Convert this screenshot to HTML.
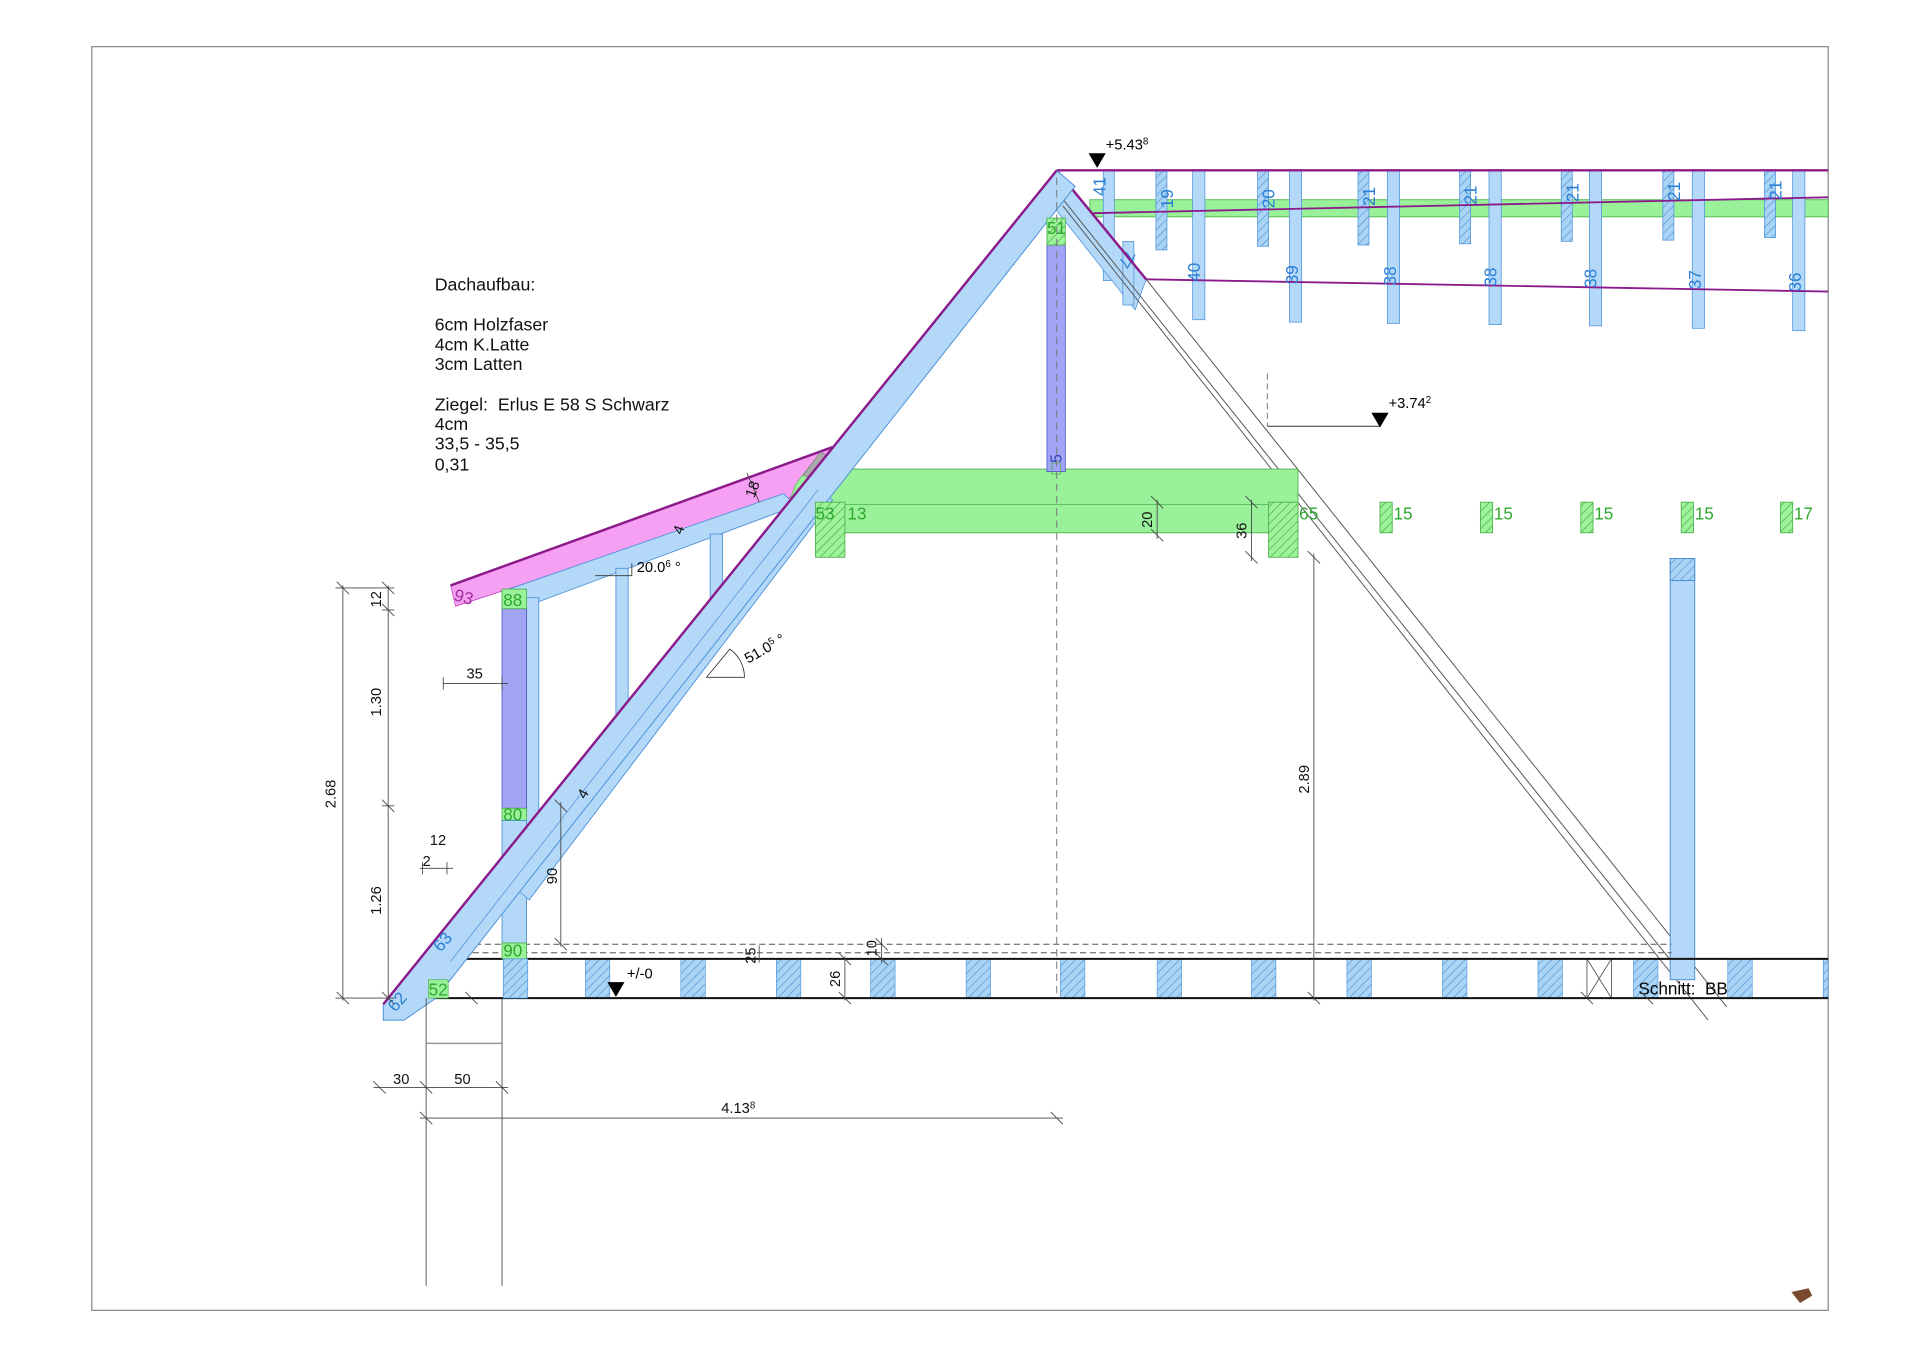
<!DOCTYPE html>
<html><head><meta charset="utf-8"><style>html,body{margin:0;padding:0;background:#fff}svg{display:block}text{font-family:"Liberation Sans",sans-serif}</style></head><body>
<svg width="1920" height="1357" viewBox="0 0 1568 1108" xmlns="http://www.w3.org/2000/svg">
<defs>
<pattern id="hb" width="5" height="5" patternUnits="userSpaceOnUse" patternTransform="rotate(45)"><rect width="5" height="5" fill="#a9d4f5"/><line x1="0" y1="0" x2="0" y2="5" stroke="#4a8fd0" stroke-width="1"/></pattern>
<pattern id="hg" width="5" height="5" patternUnits="userSpaceOnUse" patternTransform="rotate(45)"><rect width="5" height="5" fill="#9ef29a"/><line x1="0" y1="0" x2="0" y2="5" stroke="#3aa83a" stroke-width="1"/></pattern>
</defs>
<rect x="75" y="38" width="1418" height="1032" fill="none" stroke="#888" stroke-width="1"/>

<rect x="890" y="163" width="603" height="14" fill="#99f199" stroke="#4cb04c" stroke-width="0.7"/>
<g fill="#b4d9f8" stroke="#4a90d9" stroke-width="0.6">
<rect x="901" y="139" width="9" height="90"/>
<rect x="974" y="139" width="10" height="122"/>
<rect x="1053" y="139" width="10" height="124"/>
<rect x="1133" y="139" width="10" height="125"/>
<rect x="1216" y="139" width="10" height="126"/>
<rect x="1298" y="139" width="10" height="127"/>
<rect x="1382" y="139" width="10" height="129"/>
<rect x="1464" y="139" width="10" height="131"/>
</g>
<g fill="url(#hb)" stroke="#4a90d9" stroke-width="0.6">
<rect x="944" y="139" width="9" height="65"/>
<rect x="1027" y="139" width="9" height="62"/>
<rect x="1109" y="139" width="9" height="61"/>
<rect x="1192" y="139" width="9" height="60"/>
<rect x="1275" y="139" width="9" height="58"/>
<rect x="1358" y="139" width="9" height="57"/>
<rect x="1441" y="139" width="9" height="55"/>
</g>
<line x1="863" y1="139" x2="1493" y2="139" stroke="#8b1a8b" stroke-width="2"/>
<line x1="893" y1="174" x2="1493" y2="161" stroke="#8b1a8b" stroke-width="1.5"/>
<line x1="936" y1="228" x2="1493" y2="238" stroke="#8b1a8b" stroke-width="1.5"/>
<g fill="#2a7fd4" font-size="14">
<text transform="translate(903,160) rotate(-90)">41</text>
<text transform="translate(958,170) rotate(-90)">19</text>
<text transform="translate(980,230) rotate(-90)">40</text>
<text transform="translate(1041,170) rotate(-90)">20</text>
<text transform="translate(1060,232) rotate(-90)">39</text>
<text transform="translate(1123,168) rotate(-90)">21</text>
<text transform="translate(1140,233) rotate(-90)">38</text>
<text transform="translate(1206,167) rotate(-90)">21</text>
<text transform="translate(1222,234) rotate(-90)">38</text>
<text transform="translate(1289,165) rotate(-90)">21</text>
<text transform="translate(1304,235) rotate(-90)">38</text>
<text transform="translate(1372,164) rotate(-90)">21</text>
<text transform="translate(1389,236) rotate(-90)">37</text>
<text transform="translate(1455,163) rotate(-90)">21</text>
<text transform="translate(1471,238) rotate(-90)">36</text>
</g>

<polygon points="863,139 936,228 927,253 863,172" fill="#b4d9f8" stroke="#4a90d9" stroke-width="0.6"/>
<rect x="917" y="197" width="9" height="52" fill="#b4d9f8" stroke="#4a90d9" stroke-width="0.6"/>
<text transform="translate(920,203) rotate(120)" fill="#2a7fd4" font-size="13">77</text>
<line x1="863" y1="139" x2="936" y2="228" stroke="#8b1a8b" stroke-width="2"/>
<g stroke="#555" stroke-width="0.8">
<line x1="866" y1="160" x2="1365" y2="785"/>
<line x1="868" y1="168" x2="1395" y2="833"/>
<line x1="936" y1="228" x2="1410" y2="822"/>
</g>

<polygon points="684,383 1060,383 1060,435 666,435" fill="#99f199" stroke="#4cb04c" stroke-width="0.7"/>
<line x1="676" y1="412" x2="1060" y2="412" stroke="#4cb04c" stroke-width="0.7"/>
<rect x="1036" y="410" width="24" height="45" fill="url(#hg)" stroke="#4cb04c" stroke-width="0.7"/>
<g fill="url(#hg)" stroke="#4cb04c" stroke-width="0.7">
<rect x="1127" y="410" width="10" height="25"/><rect x="1209" y="410" width="10" height="25"/>
<rect x="1291" y="410" width="10" height="25"/><rect x="1373" y="410" width="10" height="25"/>
<rect x="1454" y="410" width="10" height="25"/>
</g>

<rect x="855" y="200" width="15" height="185" fill="#a2a4f6" stroke="#5058c8" stroke-width="0.7"/>
<text transform="translate(867,378) rotate(-90)" fill="#3040b0" font-size="13">5</text>
<rect x="859" y="378" width="7" height="9" fill="none" stroke="#4cb04c" stroke-width="0.6"/>

<rect x="1364" y="456" width="20" height="344" fill="#b4d9f8" stroke="#4a90d9" stroke-width="0.8"/>
<rect x="1364" y="456" width="20" height="18" fill="url(#hb)" stroke="#4a90d9" stroke-width="0.8"/>

<line x1="380" y1="771" x2="1365" y2="771" stroke="#555" stroke-width="0.8" stroke-dasharray="5,3"/>
<line x1="370" y1="778" x2="1365" y2="778" stroke="#555" stroke-width="0.8" stroke-dasharray="5,3"/>
<g fill="url(#hb)" stroke="#4a90d9" stroke-width="0.5">
<rect x="478" y="783" width="20" height="32"/><rect x="556" y="783" width="20" height="32"/>
<rect x="634" y="783" width="20" height="32"/><rect x="711" y="783" width="20" height="32"/><rect x="789" y="783" width="20" height="32"/>
<rect x="866" y="783" width="20" height="32"/><rect x="945" y="783" width="20" height="32"/><rect x="1022" y="783" width="20" height="32"/>
<rect x="1100" y="783" width="20" height="32"/><rect x="1178" y="783" width="20" height="32"/><rect x="1256" y="783" width="20" height="32"/>
<rect x="1334" y="783" width="20" height="32"/><rect x="1411" y="783" width="20" height="32"/><rect x="1489" y="783" width="4" height="32"/>
</g>
<rect x="1296" y="783" width="20" height="32" fill="none" stroke="#555" stroke-width="0.7"/>
<line x1="1296" y1="783" x2="1316" y2="815" stroke="#555" stroke-width="0.7"/><line x1="1316" y1="783" x2="1296" y2="815" stroke="#555" stroke-width="0.7"/>
<line x1="368" y1="783" x2="1493" y2="783" stroke="#111" stroke-width="1.6"/>
<line x1="345" y1="815" x2="1493" y2="815" stroke="#111" stroke-width="1.6"/>

<polygon points="368,478 680,365 648,405 372,495" fill="#f6a0f4" stroke="#c040c0" stroke-width="0.6"/>
<line x1="368" y1="478" x2="680" y2="365" stroke="#8b1a8b" stroke-width="2"/>
<polygon points="410,483 640,403 650,413 430,495 410,497" fill="#b4d9f8" stroke="#4a90d9" stroke-width="0.7"/>
<polygon points="650,395 668,372 660,392 645,408" fill="#99f199" stroke="#4cb04c" stroke-width="0.5"/>
<polygon points="656,388 670,369 676,372 664,392" fill="#aaa" stroke="#777" stroke-width="0.5"/>
<rect x="430" y="488" width="10" height="205" fill="#b4d9f8" stroke="#4a90d9" stroke-width="0.7"/>
<rect x="503" y="464" width="10" height="140" fill="#b4d9f8" stroke="#4a90d9" stroke-width="0.7"/>
<rect x="580" y="436" width="10" height="64" fill="#b4d9f8" stroke="#4a90d9" stroke-width="0.7"/>
<rect x="410" y="497" width="20" height="163" fill="#a2a4f6" stroke="#5058c8" stroke-width="0.7"/>
<rect x="410" y="481" width="20" height="16" fill="#99f199" stroke="#4cb04c" stroke-width="0.7"/>
<rect x="410" y="660" width="20" height="10" fill="#99f199" stroke="#4cb04c" stroke-width="0.7"/>
<rect x="410" y="670" width="20" height="100" fill="#b4d9f8" stroke="#4a90d9" stroke-width="0.7"/>
<line x1="410" y1="722" x2="430" y2="722" stroke="#4a90d9" stroke-width="0.7"/>
<rect x="410" y="770" width="20" height="13" fill="#99f199" stroke="#4cb04c" stroke-width="0.7"/>
<rect x="411" y="783" width="20" height="32" fill="url(#hb)" stroke="#4a90d9" stroke-width="0.5"/>

<!-- main left rafter (wider, with secondary strip) -->
<polygon points="663,398 680,408 432,735 418,722" fill="#b4d9f8" stroke="#4a90d9" stroke-width="0.6"/>
<polygon points="863,139 878,152 356,815 330,833 313,833 313,820" fill="#b4d9f8" stroke="#4a90d9" stroke-width="0.8"/>
<line x1="668" y1="400" x2="368" y2="785" stroke="#4a90d9" stroke-width="0.6"/>
<line x1="680" y1="408" x2="432" y2="735" stroke="#4a90d9" stroke-width="0.6"/>
<line x1="863" y1="139" x2="313" y2="820" stroke="#8b1a8b" stroke-width="2"/>
<rect x="666" y="410" width="24" height="45" fill="url(#hg)" stroke="#4cb04c" stroke-width="0.7"/>
<rect x="855" y="178" width="15" height="22" fill="url(#hg)" stroke="#4cb04c" stroke-width="0.7"/>
<rect x="350" y="800" width="16" height="15" fill="#99f199" stroke="#4cb04c" stroke-width="0.6"/>
<g fill="#2ea82e" font-size="14">
<text x="666" y="424">53</text><text x="692" y="424">13</text><text x="1061" y="424">65</text>
<text x="1138" y="424">15</text><text x="1220" y="424">15</text><text x="1302" y="424">15</text><text x="1384" y="424">15</text><text x="1465" y="424">17</text>
<text x="855" y="191">51</text>
<text x="350" y="813">52</text>
<text x="411" y="495">88</text><text x="411" y="670">80</text><text x="411" y="781">90</text>
</g>
<text transform="translate(323,827) rotate(-50)" fill="#2a7fd4" font-size="14">62</text>
<text transform="translate(360,778) rotate(-50)" fill="#2a7fd4" font-size="14">63</text>
<text transform="translate(370,490) rotate(15)" fill="#a030a0" font-size="14">93</text>

<line x1="863" y1="145" x2="863" y2="815" stroke="#777" stroke-width="0.8" stroke-dasharray="6,4"/>
<line x1="1035" y1="305" x2="1035" y2="348" stroke="#777" stroke-width="0.8" stroke-dasharray="5,3"/>
<line x1="1035" y1="348" x2="1127" y2="348" stroke="#333" stroke-width="0.8"/>

<polygon points="889,125 903,125 896,137" fill="#000"/>
<text x="903" y="122" font-size="12">+5.43<tspan font-size="8" dy="-4">8</tspan></text>
<polygon points="1120,337 1134,337 1127,349" fill="#000"/>
<text x="1134" y="333" font-size="12">+3.74<tspan font-size="8" dy="-4">2</tspan></text>
<polygon points="496,802 510,802 503,814" fill="#000"/>
<text x="512" y="799" font-size="12">+/-0</text>
<text x="1338" y="812" font-size="14">Schnitt:&#160;&#160;BB</text>

<g font-size="14.5" fill="#111">
<text x="355" y="237">Dachaufbau:</text>
<text x="355" y="270">6cm Holzfaser</text>
<text x="355" y="286">4cm K.Latte</text>
<text x="355" y="302">3cm Latten</text>
<text x="355" y="335">Ziegel:&#160;&#160;Erlus E 58 S Schwarz</text>
<text x="355" y="351">4cm</text>
<text x="355" y="367">33,5 - 35,5</text>
<text x="355" y="384">0,31</text>
</g>

<polyline points="486,470 516,470 516,460" fill="none" stroke="#333" stroke-width="0.7"/>
<text x="520" y="467" font-size="12">20.0<tspan font-size="8" dy="-4">6</tspan><tspan dy="4"> °</tspan></text>
<path d="M577,553 L608,553 A28,28 0 0 0 596,530 Z" fill="none" stroke="#333" stroke-width="0.7"/>
<text transform="translate(611,542) rotate(-30)" font-size="12">51.0<tspan font-size="8" dy="-4">5</tspan><tspan dy="4"> °</tspan></text>

<g stroke="#444" stroke-width="0.7" fill="none">
<line x1="280" y1="478" x2="280" y2="817"/>
<line x1="317" y1="478" x2="317" y2="817"/>
<line x1="274" y1="815" x2="322" y2="815"/>
<line x1="274" y1="480" x2="322" y2="480"/>
<line x1="312" y1="498" x2="322" y2="498"/><line x1="312" y1="658" x2="322" y2="658"/>
<line x1="305" y1="888" x2="415" y2="888"/>
<line x1="343" y1="913" x2="868" y2="913"/>
<line x1="348" y1="815" x2="348" y2="1050"/><line x1="410" y1="815" x2="410" y2="1050"/>
<line x1="348" y1="852" x2="410" y2="852" stroke="#999" stroke-width="1.2"/>
<line x1="362" y1="558" x2="415" y2="558"/>
<line x1="458" y1="655" x2="458" y2="773"/>
<line x1="1073" y1="452" x2="1073" y2="817"/>
<line x1="1022" y1="408" x2="1022" y2="458"/>
<line x1="945" y1="408" x2="945" y2="440"/>
<line x1="690" y1="781" x2="690" y2="817"/>
<line x1="720" y1="766" x2="720" y2="786"/>
<line x1="620" y1="772" x2="620" y2="786"/>
<line x1="343" y1="709" x2="370" y2="709"/>
<line x1="610" y1="386" x2="620" y2="410"/>
</g>
<g stroke="#444" stroke-width="0.7">
<path d="M275,475l10,10M275,810l10,10M312,475l10,10M312,493l10,10M312,653l10,10M312,810l10,10M305,883l10,10M343,883l10,10M405,883l10,10M343,908l10,10M858,908l10,10M362,553l0,10M410,553l0,10M453,653l10,10M453,766l10,10M1068,450l10,10M1068,810l10,10M1017,405l10,10M1017,450l10,10M940,405l10,10M940,432l10,10M685,778l10,10M685,810l10,10M715,766l10,10M715,778l10,10M345,704l0,10M365,704l0,10M380,810l10,10M1291,810l10,10M1340,810l10,10"/>
</g>
<g font-size="12" fill="#111">
<text transform="translate(274,660) rotate(-90)">2.68</text>
<text transform="translate(311,496) rotate(-90)">12</text>
<text transform="translate(311,585) rotate(-90)">1.30</text>
<text transform="translate(311,747) rotate(-90)">1.26</text>
<text x="321" y="885">30</text><text x="371" y="885">50</text>
<text x="589" y="909">4.13<tspan font-size="8" dy="-4">8</tspan></text>
<text x="381" y="554">35</text>
<text x="351" y="690">12</text><text x="345" y="707">2</text>
<text transform="translate(455,722) rotate(-90)">90</text>
<text transform="translate(1069,648) rotate(-90)">2.89</text>
<text transform="translate(1018,440) rotate(-90)">36</text>
<text transform="translate(941,431) rotate(-90)">20</text>
<text transform="translate(686,806) rotate(-90)">26</text>
<text transform="translate(716,781) rotate(-90)">10</text>
<text transform="translate(617,787) rotate(-90)">25</text>
<text transform="translate(616,407) rotate(-70)">18</text>
<text transform="translate(557,437) rotate(-70)">4</text>
<text transform="translate(478,653) rotate(-60)">4</text>
</g>
<path d="M1463,1055 l14,-3 l3,6 l-10,6 z" fill="#7a4a30"/>
</svg>
</body></html>
